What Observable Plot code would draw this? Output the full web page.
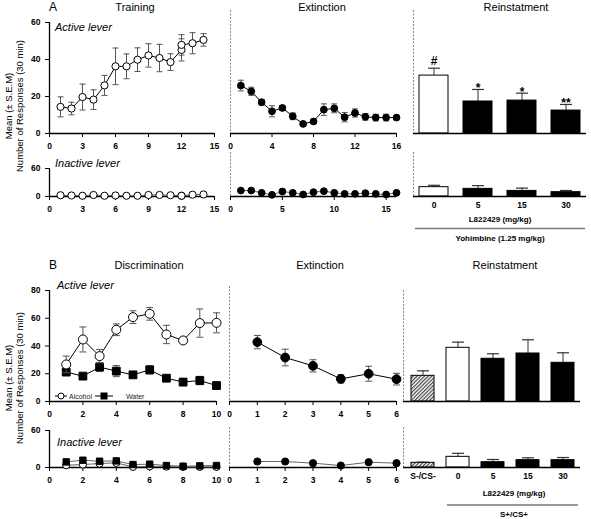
<!DOCTYPE html>
<html><head><meta charset="utf-8">
<script src="https://cdn.jsdelivr.net/npm/d3@7"></script>
<script src="https://cdn.jsdelivr.net/npm/@observablehq/plot@0.6"></script>
<style>
html,body{margin:0;padding:0;background:#fff;}
#fig{position:relative;width:591px;height:519px;overflow:hidden;font-family:"Liberation Sans",Arial,sans-serif;background:#fff;}
#fig svg{position:absolute;}
</style></head><body>
<div id="fig"></div>
<script>
// ---------- DATA ----------
// Panel A – Training (active lever)
const trainSession = [1,2,3,4,5,6,7,8,9,10,11,12,12,13,14];
const trainActive = [14.4,13.5,19.7,18.3,26,36.3,36.3,39.9,42.2,40.8,38.6,45.2,47.9,48.8,50.6];
const trainActiveSem = [5.4,3.4,7,5.3,5.4,9.9,6.7,6.4,6.3,7.4,4.5,6,5.5,5.7,3.4];
const trainInactive = [2.7,2.2,1.6,3.3,1.6,2.2,1.6,1.6,3.3,3.3,2.7,1.6,1.6,3.8,4.4];
const trainInactiveSem = [0.8,0.8,0.8,0.8,0.8,0.8,0.8,0.8,0.8,0.8,0.8,0.8,0.8,0.8,0.8];
// Panel A – Extinction
const extASession = [1,2,3,4,5,6,7,8,9,10,11,12,13,14,15,16];
const extAActive = [25.9,22.8,16.9,12,13.8,9.3,5.2,6.5,12.9,13.6,8.8,11.1,9,8.6,8.6,8.6];
const extAActiveSem = [2.9,2.2,1.5,3,1.3,1.8,0.8,0.8,3.1,2.4,2.5,2.2,1.8,1.8,1.8,1.2];
const extAInactive = [12.8,12.8,7.9,3.6,10.7,7.9,4.3,9.3,11.4,7.9,5.7,5.7,7.1,5.7,4.3,7.9];
const extAInactiveSem = [2,3,1,1,1.5,1,1,1.5,3,1.5,1,1,1,1,1,1];
// Panel A – Reinstatement
const doseA = ["0","5","15","30"];
const reinAActive = [31.3,17.3,17.8,12.4];
const reinAActiveSem = [4,6.5,4,3.3];
const reinAInactive = [20,16.4,12,9.3];
const reinAInactiveSem = [4,7,6,3.6];
const reinASig = ["#","*","*","**"];
// Panel B – Discrimination
const discSession = [1,2,3,4,5,6,7,8,9,10];
const discAlcohol = [26.7,44.7,32.7,51.7,60.8,63.2,48.3,44,56.5,56.7];
const discAlcoholSem = [6,9,4.8,4.2,4.6,4.6,6.6,2,10.2,7.2];
const discWater = [21.2,18.3,24.8,21.9,19.2,22.8,16.8,14,15.1,11.5];
const discWaterSem = [2.4,1.8,3.1,4,1.8,3,1,2.6,3,2];
const discAlcoholInactive = [3.7,4.8,6.4,7.5,1,2,1.5,1,1,1];
const discAlcoholInactiveSem = [1,1,1,1,0.5,0.5,0.5,0.5,0.5,0.5];
const discWaterInactive = [9.1,11.8,10.2,10.7,4.8,5.4,3.2,2.1,2.7,3.2];
const discWaterInactiveSem = [1.5,1.5,1.5,1.5,1,1,1,1,1,1];
// Panel B – Extinction
const extBSession = [1,2,3,4,5,6];
const extBActive = [42.8,31.7,25.7,16.3,20,16.1];
const extBActiveSem = [4.8,6,4.4,3,5.4,4.2];
const extBInactive = [9.7,9.7,7,3.2,8.6,7];
const extBInactiveSem = [1,2,1,1,1,1];
// Panel B – Reinstatement
const groupB = ["S-/CS-","0","5","15","30"];
const reinBActive = [18.5,38.7,30.8,34.6,27.9];
const reinBActiveSem = [3.6,4.1,3.6,9.9,7.2];
const reinBInactive = [7.6,17.3,8.6,11.9,11.9];
const reinBInactiveSem = [1,5.7,4.4,3.8,4.3];

// ---------- HELPERS ----------
const zip = (xs, vs, es) => xs.map((x, i) => ({x, v: vs[i], e: es[i]}));
const bars = (gs, vs, es) => gs.map((g, i) => ({g, v: vs[i], e: es[i], i}));
const fig = document.getElementById("fig");
const M = {l: 30, r: 12, t: 14, b: 20};
const FONT = "'Liberation Sans', Arial, sans-serif";
const intFmt = d3.format("d");

const capSym = w => ({draw(ctx) { ctx.moveTo(-w, 0); ctx.lineTo(w, 0); }});

function dashedLeft(above) {
  return (index, scales, values, dims) => {
    const d = dims || {marginLeft: M.l, marginTop: M.t, marginBottom: M.b, height: 0};
    return d3.create("svg:line")
      .attr("x1", d.marginLeft + 0.5).attr("x2", d.marginLeft + 0.5)
      .attr("y1", d.marginTop - above).attr("y2", d.height - d.marginBottom)
      .attr("stroke", "#8a8a8a").attr("stroke-width", 1)
      .attr("stroke-dasharray", "2,1.5").node();
  };
}

function seriesMarks(data, o = {}) {
  const {r = 3.5, fill = "white", symbol = "circle", line = "#000", err = "#555", cap = 3} = o;
  return [
    Plot.ruleX(data, {x: "x", y1: d => d.v - d.e, y2: d => d.v + d.e, stroke: err, strokeWidth: 1}),
    Plot.dot(data, {x: "x", y: d => d.v + d.e, symbol: capSym(cap), r: 1, fill: "none", stroke: err, strokeWidth: 1}),
    Plot.dot(data, {x: "x", y: d => d.v - d.e, symbol: capSym(cap), r: 1, fill: "none", stroke: err, strokeWidth: 1}),
    Plot.line(data, {x: "x", y: "v", stroke: line, strokeWidth: 1}),
    Plot.dot(data, {x: "x", y: "v", r, symbol, fill, stroke: "#000", strokeWidth: 1})
  ];
}

function barMarks(data, fills, cap) {
  return [
    Plot.ruleX(data, {x: "g", y1: "v", y2: d => d.v + d.e, stroke: "#333", strokeWidth: 1}),
    Plot.dot(data, {x: "g", y: d => d.v + d.e, symbol: capSym(cap), r: 1, fill: "none", stroke: "#333", strokeWidth: 1.2}),
    ...Object.entries(fills).map(([k, f]) =>
      Plot.barY(data, {filter: d => d.g === k, x: "g", y: "v", fill: f, stroke: "#000", strokeWidth: 1}))
  ];
}

function panel(box, opts) {
  const [x0, x1, y0, y1] = box;
  const svg = Plot.plot({
    width: x1 - x0 + M.l + M.r, height: y1 - y0 + M.t + M.b,
    marginLeft: M.l, marginRight: M.r, marginTop: M.t, marginBottom: M.b,
    style: {background: "transparent", overflow: "visible", fontFamily: FONT, fontSize: "8.5px", fontWeight: "bold", color: "#000"},
    ...opts
  });
  svg.style.left = (x0 - M.l) + "px";
  svg.style.top = (y0 - M.t) + "px";
  svg.style.maxWidth = "none";
  fig.append(svg);
}
const axisLines = [Plot.ruleY([0], {stroke: "#000", strokeWidth: 1.3}), Plot.ruleX([0], {stroke: "#000", strokeWidth: 1.3})];
const baseLine = Plot.ruleY([0], {stroke: "#000", strokeWidth: 1.3});

// ---------- PANEL A ----------
panel([49, 214, 22, 133], {
  x: {domain: [0, 15], ticks: [0, 3, 6, 9, 12, 15], tickSize: 4, tickFormat: intFmt, label: null},
  y: {domain: [0, 60], ticks: [0, 20, 40, 60], tickSize: 4, label: null},
  marks: [...axisLines, ...seriesMarks(zip(trainSession, trainActive, trainActiveSem), {r: 3.6})]
});
panel([230, 396, 22, 133], {
  x: {domain: [0, 16], ticks: [0, 4, 8, 12, 16], tickSize: 4, tickFormat: intFmt, label: null},
  y: {domain: [0, 60], axis: null},
  marks: [dashedLeft(12), baseLine, ...seriesMarks(zip(extASession, extAActive, extAActiveSem), {r: 3.4, fill: "#000"})]
});
panel([413, 586, 22, 133], {
  x: {type: "band", domain: doseA, range: [M.l + 4, M.l + 169], paddingInner: 0.333, paddingOuter: 0, axis: null},
  y: {domain: [0, 60], axis: null},
  marks: [dashedLeft(12), ...barMarks(bars(doseA, reinAActive, reinAActiveSem), {"0": "white", "5": "#000", "15": "#000", "30": "#000"}, 6), baseLine,
    Plot.text(bars(doseA, reinAActive, reinAActiveSem), {filter: d => reinASig[d.i] === "#", x: "g", y: d => d.v + d.e, text: d => reinASig[d.i], dy: -7, fontSize: 12}),
    Plot.text(bars(doseA, reinAActive, reinAActiveSem), {filter: d => reinASig[d.i] !== "#", x: "g", y: d => d.v + d.e, text: d => reinASig[d.i], dy: -1, fontSize: 12})]
});
panel([49, 214, 168, 196], {
  x: {domain: [0, 15], ticks: [0, 3, 6, 9, 12, 15], tickSize: 4, tickFormat: intFmt, label: null},
  y: {domain: [0, 60], ticks: [0, 60], tickSize: 4, label: null},
  marks: [...axisLines, ...seriesMarks(zip(trainSession, trainInactive, trainInactiveSem), {r: 3.6, line: "#666"})]
});
panel([230, 396, 168, 196], {
  x: {domain: [0, 16], ticks: [0, 5, 10, 15], tickSize: 4, tickFormat: intFmt, label: null},
  y: {domain: [0, 60], axis: null},
  marks: [dashedLeft(16), baseLine, ...seriesMarks(zip(extASession, extAInactive, extAInactiveSem), {r: 3.4, fill: "#000", line: "#666"})]
});
panel([413, 586, 168, 196], {
  x: {type: "band", domain: doseA, range: [M.l + 4, M.l + 169], paddingInner: 0.333, paddingOuter: 0, tickSize: 0, tickPadding: 5, label: null},
  y: {domain: [0, 60], axis: null},
  marks: [dashedLeft(16), ...barMarks(bars(doseA, reinAInactive, reinAInactiveSem), {"0": "white", "5": "#000", "15": "#000", "30": "#000"}, 6), baseLine]
});

// ---------- PANEL B ----------
panel([49, 216, 290, 401], {
  x: {domain: [0, 10], ticks: [0, 2, 4, 6, 8, 10], tickSize: 4, tickFormat: intFmt, label: null},
  y: {domain: [0, 80], ticks: [0, 20, 40, 60, 80], tickSize: 4, label: null},
  marks: [...axisLines,
    ...seriesMarks(zip(discSession, discWater, discWaterSem), {r: 4.4, symbol: "square", fill: "#000", cap: 3.5}),
    ...seriesMarks(zip(discSession, discAlcohol, discAlcoholSem), {r: 4.5, cap: 3.5})]
});
panel([229, 396, 290, 401], {
  x: {domain: [0, 6], ticks: [0, 1, 2, 3, 4, 5, 6], tickSize: 4, tickFormat: intFmt, label: null},
  y: {domain: [0, 80], axis: null},
  marks: [dashedLeft(4), baseLine, ...seriesMarks(zip(extBSession, extBActive, extBActiveSem), {r: 4.4, fill: "#000", cap: 3.5})]
});
panel([403, 580, 290, 401], {
  x: {type: "band", domain: groupB, range: [M.l + 6, M.l + 174], paddingInner: 0.333, paddingOuter: 0, axis: null},
  y: {domain: [0, 80], axis: null},
  marks: [dashedLeft(0), ...barMarks(bars(groupB, reinBActive, reinBActiveSem), {"S-/CS-": "url(#hatch)", "0": "white", "5": "#000", "15": "#000", "30": "#000"}, 6), baseLine]
});
panel([49, 216, 430, 467], {
  x: {domain: [0, 10], ticks: [0, 2, 4, 6, 8, 10], tickSize: 4, tickFormat: intFmt, label: null},
  y: {domain: [0, 60], ticks: [0, 60], tickSize: 4, label: null},
  marks: [...axisLines,
    ...seriesMarks(zip(discSession, discAlcoholInactive, discAlcoholInactiveSem), {r: 3.6, line: "#666", cap: 3}),
    ...seriesMarks(zip(discSession, discWaterInactive, discWaterInactiveSem), {r: 3.6, symbol: "square", fill: "#000", line: "#666", cap: 3})]
});
panel([229, 396, 430, 467], {
  x: {domain: [0, 6], ticks: [0, 1, 2, 3, 4, 5, 6], tickSize: 4, tickFormat: intFmt, label: null},
  y: {domain: [0, 60], axis: null},
  marks: [dashedLeft(3), baseLine, ...seriesMarks(zip(extBSession, extBInactive, extBInactiveSem), {r: 3.6, fill: "#000", line: "#666", cap: 3})]
});
panel([403, 580, 430, 467], {
  x: {type: "band", domain: groupB, range: [M.l + 6, M.l + 174], paddingInner: 0.333, paddingOuter: 0, tickSize: 0, tickPadding: 5, label: null},
  y: {domain: [0, 60], axis: null},
  marks: [dashedLeft(3), ...barMarks(bars(groupB, reinBInactive, reinBInactiveSem), {"S-/CS-": "url(#hatch)", "0": "white", "5": "#000", "15": "#000", "30": "#000"}, 6), baseLine]
});

// ---------- OVERLAY TEXT ----------
const ov = d3.create("svg").attr("width", 591).attr("height", 519)
  .style("left", "0px").style("top", "0px").style("pointer-events", "none")
  .style("font-family", FONT);
const pat = ov.append("defs").append("pattern").attr("id", "hatch")
  .attr("patternUnits", "userSpaceOnUse").attr("width", 2.6).attr("height", 2.6)
  .attr("patternTransform", "rotate(45)");
pat.append("rect").attr("width", 2.6).attr("height", 2.6).attr("fill", "#fff");
pat.append("line").attr("x1", 0.6).attr("y1", 0).attr("x2", 0.6).attr("y2", 2.6).attr("stroke", "#444").attr("stroke-width", 1.2);

function txt(s, x, y, o = {}) {
  const t = ov.append("text").attr("x", x).attr("y", y).text(s)
    .attr("font-size", o.size || 11).attr("fill", o.fill || "#000")
    .attr("text-anchor", o.anchor || "start");
  if (o.weight) t.attr("font-weight", o.weight);
  if (o.italic) t.attr("font-style", "italic");
  if (o.rotate) t.attr("transform", `rotate(-90 ${x} ${y})`);
  return t;
}
// titles
txt("A", 49, 11, {size: 12});
txt("Training", 135, 11, {anchor: "middle"});
txt("Extinction", 322, 11, {anchor: "middle"});
txt("Reinstatment", 516, 11, {anchor: "middle"});
txt("B", 49, 269, {size: 12});
txt("Discrimination", 149, 269, {anchor: "middle"});
txt("Extinction", 320, 269, {anchor: "middle"});
txt("Reinstatment", 505, 269, {anchor: "middle"});
// lever labels
txt("Active lever", 55, 31, {italic: true});
txt("Inactive lever", 55, 167, {italic: true});
txt("Active lever", 57, 289, {italic: true});
txt("Inactive lever", 57, 446, {italic: true});
// y labels
txt("Mean (\u00B1 S.E.M)", 12, 106, {size: 9.5, anchor: "middle", rotate: true});
txt("Number of  Responses (30 min)", 23, 106, {size: 9.5, anchor: "middle", rotate: true});
txt("Mean (\u00B1 S.E.M)", 12, 378, {size: 9.5, anchor: "middle", rotate: true});
txt("Number of  Responses (30 min)", 23, 378, {size: 9.5, anchor: "middle", rotate: true});
// reinstatement annotations
txt("L822429 (mg/kg)", 500, 222, {size: 8, weight: "bold", anchor: "middle"});
ov.append("line").attr("x1", 415).attr("x2", 585).attr("y1", 228.5).attr("y2", 228.5).attr("stroke", "#777").attr("stroke-width", 1.5);
txt("Yohimbine (1.25 mg/kg)", 500, 241, {size: 8, weight: "bold", anchor: "middle"});
txt("L822429 (mg/kg)", 514, 496, {size: 8, weight: "bold", anchor: "middle"});
ov.append("line").attr("x1", 447).attr("x2", 578).attr("y1", 505).attr("y2", 505).attr("stroke", "#777").attr("stroke-width", 1.5);
txt("S+/CS+", 514, 517, {size: 8, weight: "bold", anchor: "middle"});
// legend (panel B)
ov.append("line").attr("x1", 55).attr("x2", 67).attr("y1", 396).attr("y2", 396).attr("stroke", "#000");
ov.append("circle").attr("cx", 61).attr("cy", 396).attr("r", 3).attr("fill", "#fff").attr("stroke", "#000");
txt("Alcohol", 69, 398.5, {size: 7, fill: "#222"});
ov.append("line").attr("x1", 95).attr("x2", 113).attr("y1", 396).attr("y2", 396).attr("stroke", "#000");
ov.append("rect").attr("x", 100.5).attr("y", 392.5).attr("width", 7).attr("height", 7).attr("fill", "#000");
txt("Water", 126, 398.5, {size: 7, fill: "#222"});
fig.append(ov.node());
</script>
</body></html>
